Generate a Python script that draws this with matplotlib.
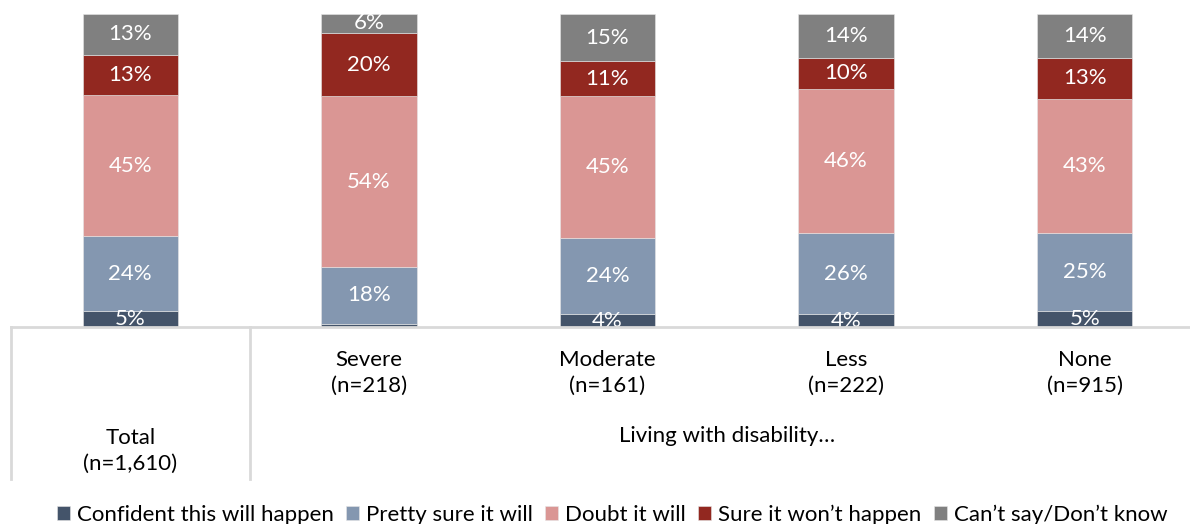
import matplotlib.pyplot as plt
import numpy as np

plt.rcParams['font.family'] = ['Lato', 'DejaVu Sans']

groups = ['Total\n(n=1,610)', 'Severe\n(n=218)', 'Moderate\n(n=161)', 'Less\n(n=222)', 'None\n(n=915)']
series = ['Confident this will happen', 'Pretty sure it will', 'Doubt it will',
          'Sure it won\u2019t happen', 'Can\u2019t say/Don\u2019t know']
confident = [5, 1, 4, 4, 5]
pretty_sure = [24, 18, 24, 26, 25]
doubt = [45, 54, 45, 46, 43]
sure_not = [13, 20, 11, 10, 13]
dont_know = [13, 6, 15, 14, 14]
colors = ['#44546A', '#8497B0', '#DA9694', '#922820', '#808080']

data = np.array([confident, pretty_sure, doubt, sure_not, dont_know], dtype=float)
shares = data / data.sum(axis=0) * 100

W, H = 1190, 524
fig = plt.figure(figsize=(W / 100, H / 100), dpi=100)
ax = fig.add_axes([11 / W, (H - 327) / H, (W - 11) / W, 313 / H])

x = np.arange(len(groups))
bottom = np.zeros(len(groups))
for i, name in enumerate(series):
    ax.bar(x, shares[i], 0.4, bottom=bottom, color=colors[i], label=name,
           edgecolor='#e6e6e6', linewidth=0.4)
    for j in range(len(groups)):
        if data[i, j] >= 3:
            ax.text(x[j], bottom[j] + shares[i, j] / 2, '%d%%' % data[i, j],
                    ha='center', va='center', color='white', fontsize=16, clip_on=True)
    bottom += shares[i]

ax.set_xlim(-0.5, -0.5 + (W - 11) / 238.6)
ax.set_ylim(0, 100)
ax.axis('off')

# table-like category area below the bars
line_c = '#d9d9d9'
fig.add_artist(plt.Line2D([11 / W, 1], [(H - 327) / H] * 2, color=line_c, lw=2))
for px in [11, 250]:
    fig.add_artist(plt.Line2D([px / W] * 2, [(H - 327) / H, (H - 479) / H], color=line_c, lw=2))

def fx(v):
    return (11 + (v + 0.5) * 238.6) / W

fig.text(fx(0), (H - 451) / H, groups[0], ha='center', va='center', fontsize=16, linespacing=1.35)
for j in range(1, len(groups)):
    fig.text(fx(j), (H - 373) / H, groups[j], ha='center', va='center', fontsize=16, linespacing=1.35)
fig.text(fx(2.5), (H - 436) / H, 'Living with disability\u2026', ha='center', va='center', fontsize=16)

fig.legend(loc='center', bbox_to_anchor=(612 / W, (H - 515) / H), ncol=5, frameon=False,
           fontsize=16, handlelength=0.6, handleheight=0.6, handletextpad=0.3, columnspacing=0.55)

fig.savefig('out.png', dpi=100)
